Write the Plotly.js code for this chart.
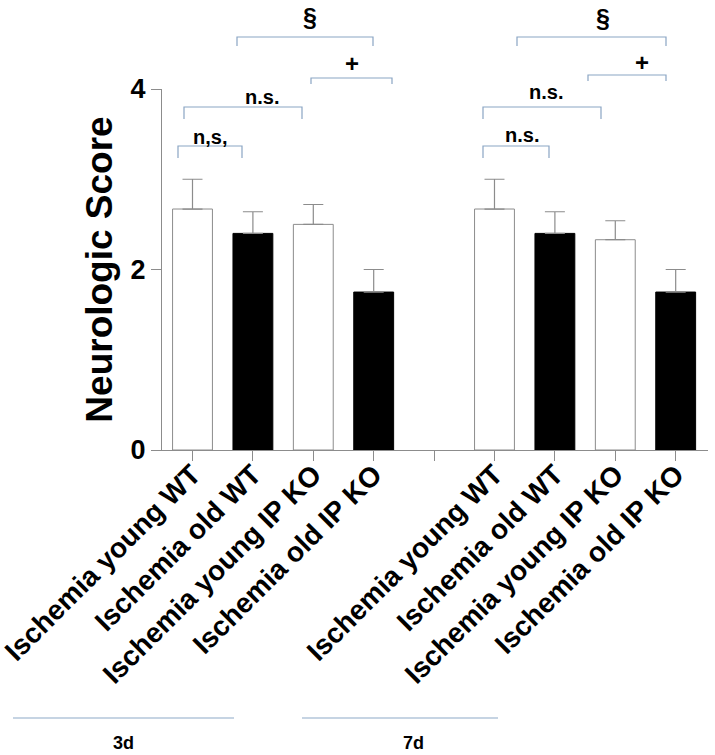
<!DOCTYPE html>
<html>
<head>
<meta charset="utf-8">
<script src="https://cdn.plot.ly/plotly-3.0.1.min.js"></script>
<style>html,body{margin:0;padding:0;background:#fff;}#chart{width:715px;height:755px;}</style>
</head>
<body>
<div id="chart"></div>
<script>
// ---- data ----
const categories = ["Ischemia young WT", "Ischemia old WT", "Ischemia young IP KO", "Ischemia old IP KO"];
const groups = ["3d", "7d"];
const values3d = [2.67, 2.40, 2.50, 1.75];
const errors3d = [0.33, 0.24, 0.22, 0.25];
const values7d = [2.67, 2.40, 2.33, 1.75];
const errors7d = [0.33, 0.24, 0.21, 0.25];
const yTicks = [0, 2, 4];

// slot layout: 4 bars, one empty slot, 4 bars
const slots3d = categories.map((c, i) => i);
const slots7d = categories.map((c, i) => i + categories.length + 1);
const allSlots = [...Array(categories.length * 2 + 1).keys()];
const tickText = [...categories, "", ...categories];

const xs = [...slots3d, ...slots7d];
const ys = [...values3d, ...values7d];
const es = [...errors3d, ...errors7d];
const fills = xs.map((x, i) => (i % 2 === 0 ? "#ffffff" : "#000000"));
const lines = xs.map((x, i) => (i % 2 === 0 ? "#8c8c8c" : "#000000"));

const FONT = "Liberation Sans, Arial, Helvetica, sans-serif";
const AX = "#8c8c8c";
const BR = "#8aa5c4";

// plot area in pixels
const L = 162, R = 708, T = 89, B = 450;
const px = x => (x - L) / (R - L);
const py = y => (B - y) / (B - T);

// significance brackets: [x0, x1, yTop, yEnd, label, labelX, labelY]
const brackets = [
  [178, 242, 146, 158, "n,s,", 210, 137],
  [184, 302, 107, 119, "n.s.", 262, 97],
  [311, 392, 78, 84, "+", 352, 63],
  [237, 373, 37, 46, "§", 310, 17],
  [483, 549, 146, 158, "n.s.", 522, 135],
  [483, 601, 107, 119, "n.s.", 546, 92],
  [588, 666, 75, 81, "+", 642, 62],
  [517, 666, 37, 46, "§", 603, 18]
];

const shapes = [];
const annotations = [];
brackets.forEach(b => {
  const [x0, x1, yt, ye, lab, lx, ly] = b;
  shapes.push({type: "path", xref: "paper", yref: "paper",
    path: `M ${px(x0)} ${py(ye)} L ${px(x0)} ${py(yt)} L ${px(x1)} ${py(yt)} L ${px(x1)} ${py(ye)}`,
    line: {color: BR, width: 1.2}});
  annotations.push({xref: "paper", yref: "paper", x: px(lx), y: py(ly), text: lab, showarrow: false,
    xanchor: "center", yanchor: "middle",
    font: {family: FONT, size: lab === "§" ? 25 : (lab === "+" ? 24 : 20), color: "#000", weight: 700}});
});

// group labels at the bottom
const groupLines = [[13, 234, 123], [302, 498, 413]];
groupLines.forEach((g, i) => {
  shapes.push({type: "line", xref: "paper", yref: "paper", x0: px(g[0]), x1: px(g[1]), y0: py(718), y1: py(718),
    line: {color: "#b3c6da", width: 1.5}});
  annotations.push({xref: "paper", yref: "paper", x: px(g[2]), y: py(743), text: groups[i], showarrow: false,
    xanchor: "center", yanchor: "middle", font: {family: FONT, size: 18, color: "#000", weight: 700}});
});

const trace = {
  type: "bar", x: xs, y: ys, width: 0.66,
  marker: {color: fills, line: {color: lines, width: 1}},
  error_y: {type: "data", symmetric: false, array: es, arrayminus: es.map(() => 0),
    color: AX, thickness: 1.2, width: 10},
  hoverinfo: "x+y"
};

const layout = {
  width: 715, height: 755,
  margin: {l: L, r: 715 - R, t: T, b: 755 - B},
  paper_bgcolor: "#fff", plot_bgcolor: "#fff",
  showlegend: false,
  xaxis: {range: [-0.505, 8.535], tickvals: allSlots, ticktext: tickText, tickangle: -45,
    ticklabeloverflow: "allow", ticklabelstandoff: -14,
    ticks: "outside", ticklen: 10, tickcolor: AX, tickwidth: 1,
    showline: true, linecolor: AX, linewidth: 1, showgrid: false, zeroline: false,
    tickfont: {family: FONT, size: 28, color: "#000", weight: 700}},
  yaxis: {range: [0, 4], tickvals: yTicks, ticks: "outside", ticklen: 10, tickcolor: AX, tickwidth: 1,
    showline: true, linecolor: AX, linewidth: 1, showgrid: false, zeroline: false,
    tickfont: {family: FONT, size: 27, color: "#000", weight: 700},
    title: {text: "Neurologic Score", standoff: 6, font: {family: FONT, size: 37, color: "#000", weight: 700}}},
  shapes: shapes,
  annotations: annotations
};

Plotly.newPlot("chart", [trace], layout, {displayModeBar: false, staticPlot: true});
</script>
</body>
</html>
